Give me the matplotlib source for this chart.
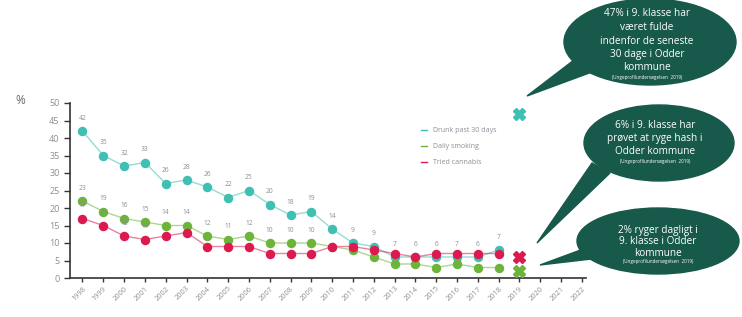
import numpy as np
import matplotlib
matplotlib.use('Agg')
import matplotlib.pyplot as plt
from matplotlib.patches import Ellipse, Polygon

plt.rcParams['font.family'] = ['Open Sans', 'DejaVu Sans']

years = list(range(1998, 2019))
drunk = [42, 35, 32, 33, 27, 28, 26, 23, 25, 21, 18, 19, 14, 10, 9, 6, 6, 6, 6, 6, 8]
drunk_labels = [42, 35, 32, 33, 26, 28, 26, 22, 25, 20, 18, 19, 14, 9, 9, 7, 6, 6, 7, 6, 7]
smoking = [22, 19, 17, 16, 15, 15, 12, 11, 12, 10, 10, 10, 9, 8, 6, 4, 4, 3, 4, 3, 3]
smoking_labels = [23, 19, 16, 15, 14, 14, 12, 11, 12, 10, 10, 10]
cannabis = [17, 15, 12, 11, 12, 13, 9, 9, 9, 7, 7, 7, 9, 9, 8, 7, 6, 7, 7, 7, 7]
cannabis_labels = [17, 15, 12, 11]

odder_year = 2019
odder_drunk = 47
odder_cannabis = 6
odder_smoking = 2

tick_years = list(range(1998, 2023))

teal = '#40bfb3'
green = '#6cb43a'
red = '#dc1a4f'
dark = '#17594a'
grey = '#8a8f96'

fig = plt.figure(figsize=(7.42, 3.17), dpi=100)
ax = fig.add_axes([70 / 742, (317 - 278) / 317, 516 / 742, 175 / 317])

# lines + dots
for vals, col in [(drunk, teal), (smoking, green), (cannabis, red)]:
    ax.plot(years, vals, color=col, lw=1.0, alpha=0.55, zorder=2)
    ax.plot(years, vals, 'o', color=col, ms=5.8, zorder=3)

for x, v, lab in zip(years, drunk, drunk_labels):
    ax.text(x, v + 2.6, str(lab), ha='center', va='bottom', fontsize=4.8, color=grey)
for x, v, lab in zip(years, smoking, smoking_labels):
    ax.text(x, v + 2.6, str(lab), ha='center', va='bottom', fontsize=4.8, color=grey)
for x, v, lab in zip(years, cannabis, cannabis_labels):
    ax.text(x, v + 2.6, str(lab), ha='center', va='bottom', fontsize=4.8, color=grey)

# Odder 2019 values
ax.plot(odder_year, odder_drunk, 'X', color=teal, ms=8, clip_on=False, zorder=4)
ax.plot(odder_year, odder_cannabis, 'X', color=red, ms=8, clip_on=False, zorder=4)
ax.plot(odder_year, odder_smoking, 'X', color=green, ms=8, clip_on=False, zorder=4)

ax.set_xlim(1997.4, 2022.2)
ax.set_ylim(0, 50)
ax.set_yticks(np.arange(0, 51, 5))
ax.set_xticks(tick_years)
ax.set_xticklabels([str(y) for y in tick_years], rotation=45, ha='right',
                   rotation_mode='anchor', fontsize=5.3, color=grey)
ax.tick_params(axis='y', labelsize=6.5, labelcolor=grey, length=4, color='#333333', width=1)
ax.tick_params(axis='x', length=3, color='#333333', width=1, pad=2)
for s in ['top', 'right']:
    ax.spines[s].set_visible(False)
for s in ['left', 'bottom']:
    ax.spines[s].set_color('#333333')
    ax.spines[s].set_linewidth(1.2)
ax.set_facecolor('none')

# overlay in pixel coordinates for legend and speech bubbles
ov = fig.add_axes([0, 0, 1, 1], zorder=5)
ov.set_xlim(0, 742)
ov.set_ylim(317, 0)
ov.axis('off')
ov.patch.set_alpha(0)

ov.text(20, 100, '%', fontsize=8.5, color='#666666', ha='center', va='center')

legend_items = [('Drunk past 30 days', teal, 130), ('Daily smoking', green, 146), ('Tried cannabis', red, 162)]
for lab, col, y in legend_items:
    ov.plot([421, 427], [y, y], color=col, lw=1)
    ov.text(433, y, lab, fontsize=5, color=grey, va='center')

bubbles = [
    ((650, 42), 172, 86, [(574, 60), (592, 72), (527, 96)]),
    ((659, 143), 150, 76, [(592, 163), (610, 173), (537, 243)]),
    ((658, 241), 162, 66, [(586, 248), (600, 258), (540, 265)]),
]
for (c, w, h, tail) in bubbles:
    ov.add_patch(Ellipse(c, w, h, color=dark, zorder=3))
    ov.add_patch(Polygon(tail, closed=True, color=dark, zorder=3))

src = '(Ungeprofilundersøgelsen  2019)'
texts = [
    (647, [('47% i 9. klasse har', 13), ('været fulde', 28), ('indenfor de seneste', 41),
           ('30 dage i Odder', 54), ('kommune', 67)], 77),
    (655, [('6% i 9. klasse har', 125), ('prøvet at ryge hash i', 139), ('Odder kommune', 152)], 161),
    (658, [('2% ryger dagligt i', 230), ('9. klasse i Odder', 242), ('kommune', 253)], 262),
]
for x, lines, ys in texts:
    for t, y in lines:
        ov.text(x, y, t, color='white', fontsize=7.2, ha='center', va='center', zorder=4)
    ov.text(x, ys, src, color='white', fontsize=3.3, ha='center', va='center', zorder=4)

fig.savefig('out.png', dpi=100)
